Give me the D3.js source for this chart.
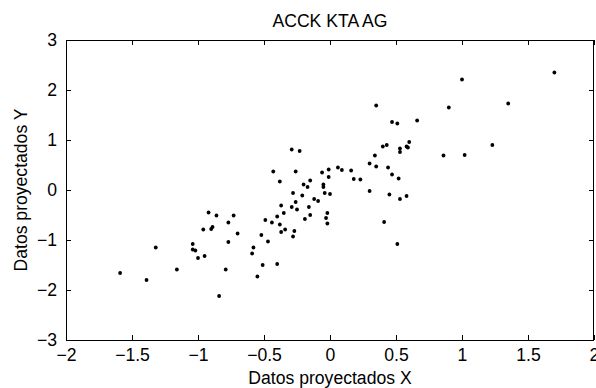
<!DOCTYPE html>
<html>
<head>
<meta charset="utf-8">
<script src="https://cdn.jsdelivr.net/npm/d3@7"></script>
<style>
  body { margin: 0; background: #fff; }
  text { font-family: "Liberation Sans", Arial, sans-serif; fill: #000; }
</style>
</head>
<body>
<div id="chart"></div>
<script>
const WIDTH = 596;
const HEIGHT = 388;
const MARGIN = { top: 40, right: 2, bottom: 48, left: 66 };
const FONT_SIZE = 17.6;

const TITLE = "ACCK KTA AG";
const X_LABEL = "Datos proyectados X";
const Y_LABEL = "Datos proyectados Y";

const xTicks = [-2, -1.5, -1, -0.5, 0, 0.5, 1, 1.5, 2];
const xTickLabels = ["−2", "−1.5", "−1", "−0.5", "0", "0.5", "1", "1.5", "2"];
const yTicks = [-3, -2, -1, 0, 1, 2, 3];
const yTickLabels = ["−3", "−2", "−1", "0", "1", "2", "3"];

// projected points
const xs = [1.70, 1.00, 0.90, 1.35, 1.23, 0.86, 1.02, 0.35, 0.47, 0.51,
            0.66, -0.29, -0.23, 0.40, 0.43, 0.60, 0.53, 0.53, 0.58, 0.59,
            0.34, 0.30, 0.35, 0.44, 0.47, 0.52, -0.43, -0.26, -0.06, -0.01,
            -0.01, 0.06, 0.09, 0.16, 0.18, 0.23, 0.30, 0.45, 0.53, 0.58,
            0.41, 0.51, -0.38, -0.15, -0.20, -0.17, -0.05, -0.05, -0.28, -0.21,
            -0.04, 0.00, -0.12, -0.09, -0.26, -0.37, -0.29, -0.16, -0.25, -0.35,
            -0.02, -0.15, -0.40, -0.19, -0.03, -0.49, -0.44, -0.38, -0.02, -0.34,
            -0.27, -0.37, -0.28, -0.52, -0.47, -0.58, -0.59, -0.51, -0.40, -0.55,
            -0.92, -0.86, -0.73, -0.77, -0.89, -0.90, -0.96, -0.70, -0.77, -1.04,
            -1.04, -1.02, -1.32, -0.95, -1.00, -1.16, -0.79, -1.59, -1.39, -0.84];
const ys = [2.35, 2.21, 1.65, 1.73, 0.90, 0.69, 0.70, 1.69, 1.36, 1.33,
            1.39, 0.81, 0.78, 0.87, 0.90, 0.96, 0.83, 0.76, 0.87, 0.85,
            0.69, 0.53, 0.47, 0.45, 0.31, 0.23, 0.37, 0.37, 0.35, 0.41,
            0.26, 0.45, 0.40, 0.39, 0.22, 0.21, -0.02, -0.09, -0.18, -0.12,
            -0.64, -1.08, 0.17, 0.19, 0.11, 0.06, 0.11, 0.06, -0.06, -0.11,
            -0.06, -0.08, -0.18, -0.22, -0.24, -0.31, -0.34, -0.34, -0.39, -0.46,
            -0.46, -0.50, -0.53, -0.58, -0.56, -0.60, -0.65, -0.69, -0.67, -0.79,
            -0.82, -0.84, -0.93, -0.90, -1.03, -1.15, -1.27, -1.50, -1.48, -1.73,
            -0.45, -0.51, -0.51, -0.65, -0.74, -0.78, -0.79, -0.87, -1.04, -1.08,
            -1.19, -1.21, -1.15, -1.32, -1.36, -1.59, -1.59, -1.66, -1.80, -2.12];

const points = xs.map((x, i) => ({ x: x, y: ys[i] }));

const innerW = WIDTH - MARGIN.left - MARGIN.right;
const innerH = HEIGHT - MARGIN.top - MARGIN.bottom;

const x = d3.scaleLinear().domain([-2, 2]).range([0, innerW]);
const y = d3.scaleLinear().domain([-3, 3]).range([innerH, 0]);

const svg = d3.select("#chart")
    .append("svg")
    .attr("width", WIDTH)
    .attr("height", HEIGHT);

const g = svg.append("g")
    .attr("transform", "translate(" + MARGIN.left + "," + MARGIN.top + ")");

function styleAxis(sel) {
    sel.select(".domain").remove();
    sel.selectAll("line").attr("stroke", "#000");
    sel.selectAll("text")
        .style("font-size", FONT_SIZE + "px");
}

// bottom axis with labels, ticks pointing inward
g.append("g")
    .attr("transform", "translate(0," + innerH + ")")
    .call(d3.axisBottom(x).tickValues(xTicks)
        .tickFormat((d, i) => xTickLabels[i])
        .tickSizeInner(-5).tickSizeOuter(0).tickPadding(9))
    .call(styleAxis);

// top ticks
g.append("g")
    .call(d3.axisTop(x).tickValues(xTicks).tickFormat("")
        .tickSizeInner(-5).tickSizeOuter(0))
    .call(styleAxis);

// left axis with labels
g.append("g")
    .call(d3.axisLeft(y).tickValues(yTicks)
        .tickFormat((d, i) => yTickLabels[i])
        .tickSizeInner(-5).tickSizeOuter(0).tickPadding(9))
    .call(styleAxis);

// right ticks
g.append("g")
    .attr("transform", "translate(" + innerW + ",0)")
    .call(d3.axisRight(y).tickValues(yTicks).tickFormat("")
        .tickSizeInner(-5).tickSizeOuter(0))
    .call(styleAxis);

// plot box
g.append("rect")
    .attr("x", 0.5)
    .attr("y", 0.5)
    .attr("width", innerW - 1)
    .attr("height", innerH)
    .attr("fill", "none")
    .attr("stroke", "#000")
    .attr("stroke-width", 1);

g.selectAll("circle")
    .data(points)
    .enter()
    .append("circle")
    .attr("cx", d => x(d.x))
    .attr("cy", d => y(d.y))
    .attr("r", 1.9)
    .attr("fill", "#000");

svg.append("text")
    .attr("x", MARGIN.left + innerW / 2)
    .attr("y", 27)
    .attr("text-anchor", "middle")
    .style("font-size", FONT_SIZE + "px")
    .text(TITLE);

svg.append("text")
    .attr("x", MARGIN.left + innerW / 2)
    .attr("y", HEIGHT - 4)
    .attr("text-anchor", "middle")
    .style("font-size", FONT_SIZE + "px")
    .text(X_LABEL);

svg.append("text")
    .attr("transform", "translate(27," + (MARGIN.top + innerH / 2) + ") rotate(-90)")
    .attr("text-anchor", "middle")
    .style("font-size", FONT_SIZE + "px")
    .text(Y_LABEL);
</script>
</body>
</html>
